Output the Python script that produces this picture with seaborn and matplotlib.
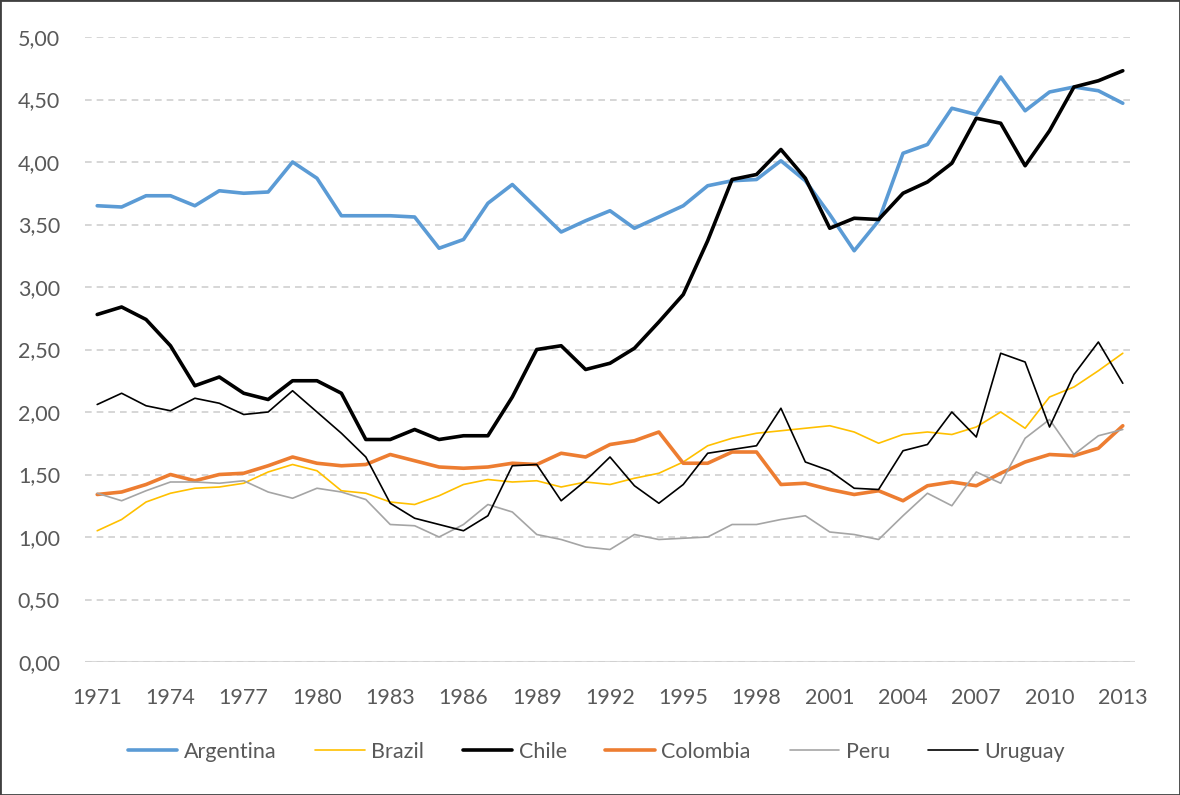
import numpy as np
import pandas as pd
import matplotlib
matplotlib.use("Agg")
import matplotlib.pyplot as plt
import seaborn as sns
from matplotlib.ticker import FuncFormatter, MultipleLocator

# Dados
anos = list(range(1971, 2014))

argentina = [3.65, 3.64, 3.73, 3.73, 3.65, 3.77, 3.75, 3.76, 4.00, 3.87,
             3.57, 3.57, 3.57, 3.56, 3.31, 3.38, 3.67, 3.82, 3.63, 3.44,
             3.53, 3.61, 3.47, 3.56, 3.65, 3.81, 3.85, 3.86, 4.01, 3.85,
             3.58, 3.29, 3.53, 4.07, 4.14, 4.43, 4.38, 4.68, 4.41, 4.56,
             4.60, 4.57, 4.47]
brazil = [1.05, 1.14, 1.28, 1.35, 1.39, 1.40, 1.43, 1.52, 1.58, 1.53,
          1.37, 1.35, 1.28, 1.26, 1.33, 1.42, 1.46, 1.44, 1.45, 1.40,
          1.44, 1.42, 1.47, 1.51, 1.60, 1.73, 1.79, 1.83, 1.85, 1.87,
          1.89, 1.84, 1.75, 1.82, 1.84, 1.82, 1.88, 2.00, 1.87, 2.12,
          2.20, 2.33, 2.47]
chile = [2.78, 2.84, 2.74, 2.53, 2.21, 2.28, 2.15, 2.10, 2.25, 2.25,
         2.15, 1.78, 1.78, 1.86, 1.78, 1.81, 1.81, 2.12, 2.50, 2.53,
         2.34, 2.39, 2.51, 2.72, 2.94, 3.37, 3.86, 3.90, 4.10, 3.87,
         3.47, 3.55, 3.54, 3.75, 3.84, 3.99, 4.35, 4.31, 3.97, 4.25,
         4.60, 4.65, 4.73]
colombia = [1.34, 1.36, 1.42, 1.50, 1.45, 1.50, 1.51, 1.57, 1.64, 1.59,
            1.57, 1.58, 1.66, 1.61, 1.56, 1.55, 1.56, 1.59, 1.58, 1.67,
            1.64, 1.74, 1.77, 1.84, 1.59, 1.59, 1.68, 1.68, 1.42, 1.43,
            1.38, 1.34, 1.37, 1.29, 1.41, 1.44, 1.41, 1.51, 1.60, 1.66,
            1.65, 1.71, 1.89]
peru = [1.35, 1.29, 1.37, 1.44, 1.44, 1.43, 1.45, 1.36, 1.31, 1.39,
        1.36, 1.30, 1.10, 1.09, 1.00, 1.10, 1.26, 1.20, 1.02, 0.98,
        0.92, 0.90, 1.02, 0.98, 0.99, 1.00, 1.10, 1.10, 1.14, 1.17,
        1.04, 1.02, 0.98, 1.17, 1.35, 1.25, 1.52, 1.43, 1.79, 1.94,
        1.66, 1.81, 1.86]
uruguay = [2.06, 2.15, 2.05, 2.01, 2.11, 2.07, 1.98, 2.00, 2.17, 2.00,
           1.83, 1.64, 1.27, 1.15, 1.10, 1.05, 1.17, 1.57, 1.58, 1.29,
           1.45, 1.64, 1.41, 1.27, 1.42, 1.67, 1.70, 1.73, 2.03, 1.60,
           1.53, 1.39, 1.38, 1.69, 1.74, 2.00, 1.80, 2.47, 2.40, 1.88,
           2.30, 2.56, 2.23]

paises = ["Argentina", "Brazil", "Chile", "Colombia", "Peru", "Uruguay"]
series = [argentina, brazil, chile, colombia, peru, uruguay]

df = pd.DataFrame({"Ano": anos * len(paises),
                   "País": np.repeat(paises, len(anos)),
                   "Valor": np.concatenate(series)})

cores = {"Argentina": "#5B9BD5", "Brazil": "#FFC000", "Chile": "#000000",
         "Colombia": "#ED7D31", "Peru": "#A5A5A5", "Uruguay": "#000000"}
larguras = {"Argentina": 2.6, "Brazil": 1.2, "Chile": 2.6,
            "Colombia": 2.6, "Peru": 1.2, "Uruguay": 1.2}

sns.set_style("white")
plt.rcParams['font.family'] = ['Lato', 'DejaVu Sans']
cinza = "#595959"
fs = 15.5

fig = plt.figure(figsize=(11.8, 7.95), dpi=100)
ax = fig.add_axes([85 / 1180, 1 - 662 / 795, 1050 / 1180, 625 / 795])

for pais in paises:
    sns.lineplot(data=df[df["País"] == pais], x="Ano", y="Valor", ax=ax,
                 color=cores[pais], linewidth=larguras[pais], label=pais)

ax.set_xlim(1970.5, 2013.5)
ax.set_ylim(0, 5)
ax.yaxis.set_major_locator(MultipleLocator(0.5))
ax.yaxis.set_major_formatter(FuncFormatter(lambda v, p: f"{v:.2f}".replace(".", ",")))
ax.set_xticks(anos[::3])
ax.grid(axis="y", color="#D0D0D0", linestyle=(0, (4, 3)), linewidth=1.2)
ax.axhline(0, color="#D9D9D9", linewidth=1.5, zorder=0)
for s in ax.spines.values():
    s.set_visible(False)
ax.tick_params(axis="both", colors=cinza, labelsize=fs, length=0)
ax.tick_params(axis="y", pad=18)
ax.tick_params(axis="x", pad=19)
ax.set_xlabel("")
ax.set_ylabel("")

ax.legend(loc="center", bbox_to_anchor=(0.487, -0.144), ncol=6,
          frameon=False, fontsize=fs, labelcolor=cinza, handlelength=2.3,
          handletextpad=0.3, columnspacing=1.8)

fig.patches.append(plt.Rectangle((0, 0), 1, 1, transform=fig.transFigure,
                                 fill=False, edgecolor="#404040", linewidth=2))

fig.savefig("out.png", dpi=100)
